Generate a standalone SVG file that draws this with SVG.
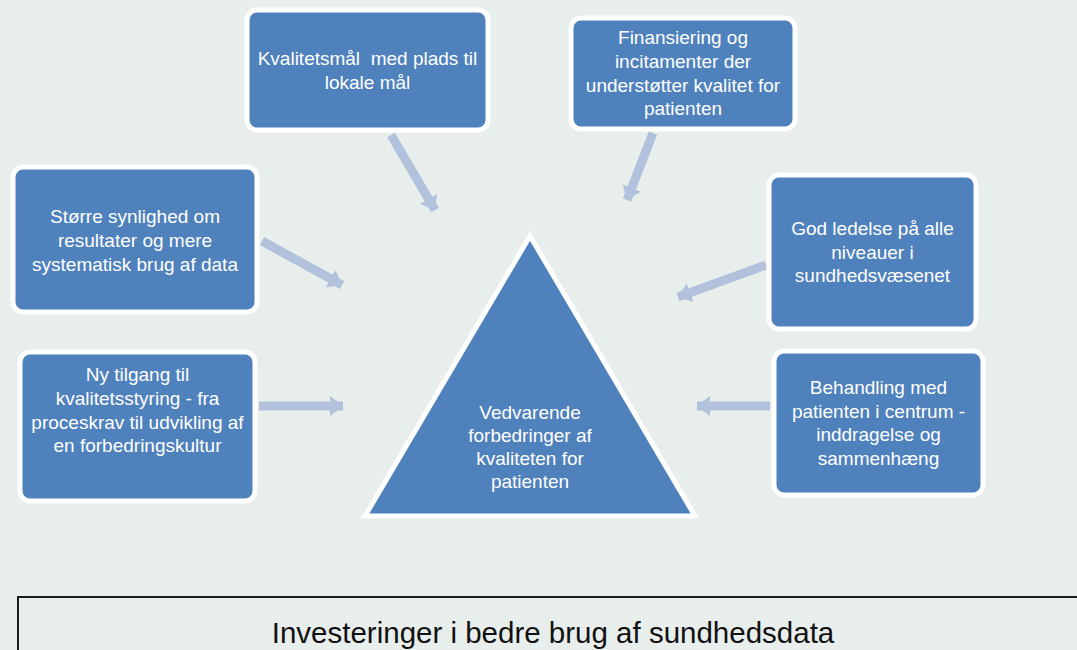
<svg xmlns="http://www.w3.org/2000/svg" width="1077" height="650" viewBox="0 0 1077 650">
<style>
.bg{fill:#e8eeeb}
.box{fill:#4f81bd;stroke:#ffffff;stroke-width:5}
.t{font-family:"Liberation Sans",Arial,sans-serif;font-size:19px;fill:#ffffff;text-anchor:middle}
.arr{stroke:#b2c1dc;stroke-width:9;fill:none;marker-end:url(#ah)}
.base{fill:#e8eeeb;stroke:#1a1a1a;stroke-width:2}
.bt{font-family:"Liberation Sans",Arial,sans-serif;font-size:29.5px;fill:#111111;text-anchor:middle}
</style>
<defs>
<marker id="ah" markerUnits="userSpaceOnUse" markerWidth="14" markerHeight="22" refX="13" refY="11" orient="auto">
<path d="M0,1 L13,11 L0,21 z" fill="#b2c1dc"/>
</marker>
</defs>
<rect class="bg" x="0" y="0" width="1077" height="650"/>
<g id="connectors">
<line class="arr" x1="391" y1="135" x2="435" y2="210"/>
<line class="arr" x1="653" y1="133" x2="627" y2="200"/>
<line class="arr" x1="262" y1="241" x2="342" y2="285"/>
<line class="arr" x1="766" y1="265" x2="678" y2="297"/>
<line class="arr" x1="259" y1="406" x2="343" y2="406"/>
<line class="arr" x1="770" y1="406" x2="697" y2="406"/>
</g>
<g id="n-kvalitetsmaal">
<rect class="box" x="247" y="10" width="241" height="120" rx="10"/>
<text class="t" x="367.5" y="65" xml:space="preserve">Kvalitetsmål  med plads til</text>
<text class="t" x="367.5" y="89">lokale mål</text>
</g>
<g id="n-finansiering">
<rect class="box" x="571" y="18" width="224" height="111" rx="10"/>
<text class="t" x="683" y="44">Finansiering og</text>
<text class="t" x="683" y="68">incitamenter der</text>
<text class="t" x="683" y="92">understøtter kvalitet for</text>
<text class="t" x="683" y="115">patienten</text>
</g>
<g id="n-synlighed">
<rect class="box" x="13" y="167" width="244" height="145" rx="10"/>
<text class="t" x="135" y="223">Større synlighed om</text>
<text class="t" x="135" y="247">resultater og mere</text>
<text class="t" x="135" y="271">systematisk brug af data</text>
</g>
<g id="n-ledelse">
<rect class="box" x="769" y="175" width="207" height="154" rx="10"/>
<text class="t" x="872.5" y="235">God ledelse på alle</text>
<text class="t" x="872.5" y="259">niveauer i</text>
<text class="t" x="872.5" y="282">sundhedsvæsenet</text>
</g>
<g id="n-tilgang">
<rect class="box" x="20" y="352" width="235" height="149" rx="10"/>
<text class="t" x="137.5" y="381">Ny tilgang til</text>
<text class="t" x="137.5" y="405">kvalitetsstyring - fra</text>
<text class="t" x="137.5" y="429">proceskrav til udvikling af</text>
<text class="t" x="137.5" y="452">en forbedringskultur</text>
</g>
<g id="n-behandling">
<rect class="box" x="774" y="351" width="209" height="144" rx="10"/>
<text class="t" x="878.5" y="394">Behandling med</text>
<text class="t" x="878.5" y="418">patienten i centrum -</text>
<text class="t" x="878.5" y="441">inddragelse og</text>
<text class="t" x="878.5" y="465">sammenhæng</text>
</g>
<g id="n-vedvarende">
<polygon class="box" points="530,236 365,516 695,516"/>
<text class="t" x="530" y="419">Vedvarende</text>
<text class="t" x="530" y="442">forbedringer af</text>
<text class="t" x="530" y="465">kvaliteten for</text>
<text class="t" x="530" y="488">patienten</text>
</g>
<g id="n-investeringer">
<rect class="base" x="18" y="597" width="1070" height="70"/>
<text class="bt" x="553" y="643">Investeringer i bedre brug af sundhedsdata</text>
</g>
</svg>
